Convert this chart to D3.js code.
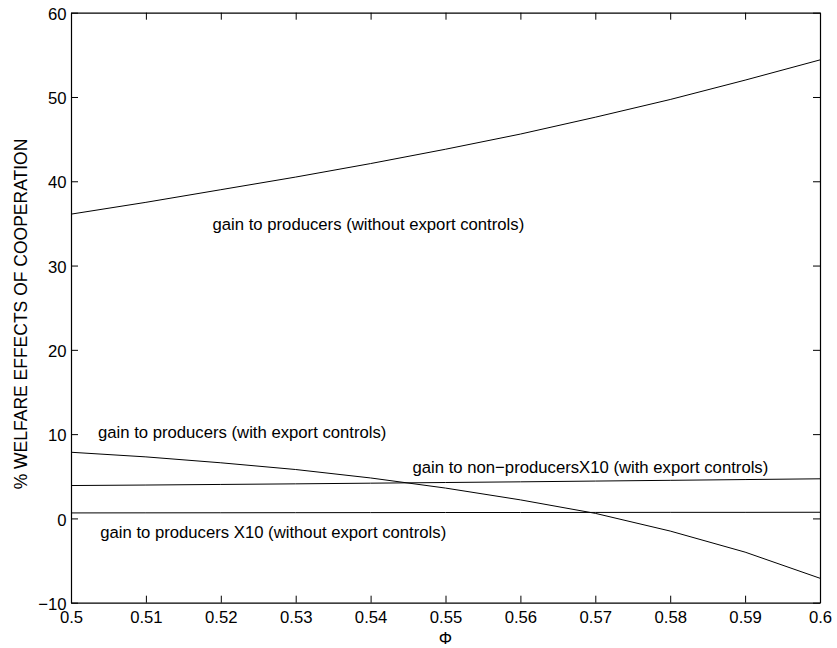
<!DOCTYPE html>
<html>
<head>
<meta charset="utf-8">
<script src="https://cdn.jsdelivr.net/npm/d3@7"></script>
<style>
  html, body { margin: 0; padding: 0; background: #fff; }
  svg { display: block; }
  text { font-family: "Liberation Sans", Arial, Helvetica, sans-serif; fill: #000; }
</style>
</head>
<body>
<svg id="chart" width="837" height="648"></svg>
<script>
// ---- data ----
const phi = [0.50, 0.51, 0.52, 0.53, 0.54, 0.55, 0.56, 0.57, 0.58, 0.59, 0.60];
const gainProducersNoEC = [36.1, 37.5, 39.0, 40.5, 42.1, 43.8, 45.6, 47.6, 49.7, 52.0, 54.4];
const gainProducersEC = [7.85, 7.3, 6.6, 5.8, 4.8, 3.6, 2.2, 0.6, -1.5, -4.0, -7.1];
const gainNonProducersX10EC = [3.90, 3.96, 4.03, 4.10, 4.18, 4.26, 4.34, 4.43, 4.52, 4.61, 4.70];
const gainProducersX10NoEC = [0.65, 0.66, 0.67, 0.68, 0.69, 0.70, 0.70, 0.71, 0.72, 0.72, 0.73];

const xTicks = [0.50, 0.51, 0.52, 0.53, 0.54, 0.55, 0.56, 0.57, 0.58, 0.59, 0.60];
const xTickLabels = ["0.5", "0.51", "0.52", "0.53", "0.54", "0.55", "0.56", "0.57", "0.58", "0.59", "0.6"];
const yTicks = [-10, 0, 10, 20, 30, 40, 50, 60];
const yTickLabels = ["\u221210", "0", "10", "20", "30", "40", "50", "60"];

const seriesLabels = [
  { text: "gain to producers (without export controls)", x: 0.5189, y: 34.2 },
  { text: "gain to producers (with export controls)", x: 0.5036, y: 9.5 },
  { text: "gain to non\u2212producersX10 (with export controls)", x: 0.5456, y: 5.4 },
  { text: "gain to producers X10 (without export controls)", x: 0.5039, y: -2.3 }
];
const xLabel = "\u03A6";
const yLabel = "% WELFARE EFFECTS OF COOPERATION";

// ---- layout ----
const svg = d3.select("#chart");
const L = 71, R = 820, T = 12.7, B = 602.7;
const x = d3.scaleLinear().domain([0.5, 0.6]).range([L, R]);
const y = d3.scaleLinear().domain([-10, 60]).range([B, T]);
const tickLen = 7;
const fs = 16.7;

// lines
const line = d3.line().x((d, i) => x(phi[i])).y(d => y(d));
[gainProducersNoEC, gainProducersEC, gainNonProducersX10EC, gainProducersX10NoEC].forEach(s => {
  svg.append("path").attr("d", line(s)).attr("fill", "none")
    .attr("stroke", "#000").attr("stroke-width", 1);
});

// axes (box with inward ticks on all sides)
const gB = svg.append("g").attr("transform", `translate(0,${B})`)
  .call(d3.axisBottom(x).tickValues(xTicks).tickSizeInner(-tickLen).tickSizeOuter(0)
    .tickFormat((d, i) => xTickLabels[i]));
const gT = svg.append("g").attr("transform", `translate(0,${T})`)
  .call(d3.axisTop(x).tickValues(xTicks).tickSizeInner(-tickLen).tickSizeOuter(0).tickFormat(""));
const gL = svg.append("g").attr("transform", `translate(${L},0)`)
  .call(d3.axisLeft(y).tickValues(yTicks).tickSizeInner(-tickLen).tickSizeOuter(0)
    .tickFormat((d, i) => yTickLabels[i]));
const gR = svg.append("g").attr("transform", `translate(${R},0)`)
  .call(d3.axisRight(y).tickValues(yTicks).tickSizeInner(-tickLen).tickSizeOuter(0).tickFormat(""));

[gB, gT, gL, gR].forEach(g => {
  g.select(".domain").attr("stroke", "#000").attr("stroke-width", 1.2);
  g.selectAll(".tick line").attr("stroke", "#000").attr("stroke-width", 1);
  g.selectAll("text").attr("font-size", fs)
    .attr("font-family", '"Liberation Sans", Arial, Helvetica, sans-serif').attr("fill", "#000");
});
gB.selectAll(".tick text").attr("dy", null).attr("y", 20.5).attr("dominant-baseline", "auto");
gL.selectAll(".tick text").attr("x", -4.5).attr("dy", "0.4em");

// series labels
seriesLabels.forEach(l => {
  svg.append("text").attr("x", x(l.x)).attr("y", y(l.y))
    .attr("font-size", fs).text(l.text);
});

// axis titles
svg.append("text").attr("x", (L + R) / 2).attr("y", 643.5)
  .attr("text-anchor", "middle").attr("font-size", fs).text(xLabel);
svg.append("text").attr("transform", `translate(26.5,314) rotate(-90)`)
  .attr("text-anchor", "middle").attr("font-size", 17.5).text(yLabel);
</script>
</body>
</html>
